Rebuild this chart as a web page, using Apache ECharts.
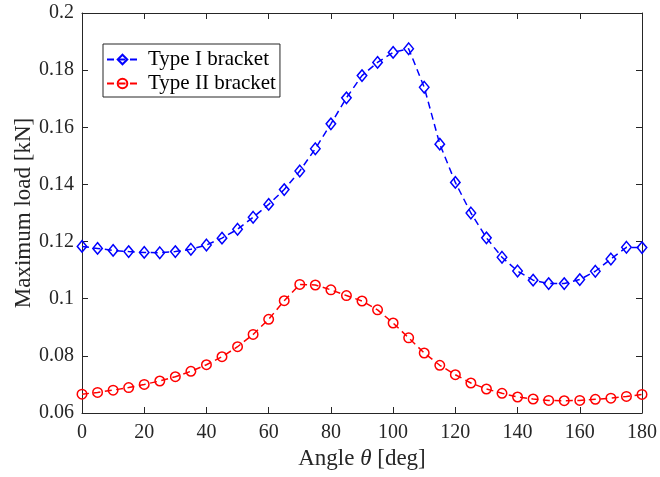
<!DOCTYPE html>
<html>
<head>
<meta charset="utf-8">
<script src="https://cdn.jsdelivr.net/npm/echarts@6/dist/echarts.min.js"></script>
<style>
  html, body { margin: 0; padding: 0; background: #fff; }
  #chart { width: 660px; height: 477px; }
</style>
</head>
<body>
<div id="chart"></div>
<script>
// Angles in degrees, one sample every 5 degrees
const angles = [0, 5, 10, 15, 20, 25, 30, 35, 40, 45, 50, 55, 60, 65, 70, 75, 80, 85, 90,
  95, 100, 105, 110, 115, 120, 125, 130, 135, 140, 145, 150, 155, 160, 165, 170, 175, 180];

// Maximum load [kN] for each bracket type
const typeI = [0.1183, 0.1176, 0.1169, 0.1165, 0.1162, 0.1161, 0.1165, 0.1173, 0.1188, 0.1212,
  0.1243, 0.1285, 0.1330, 0.1382, 0.1447, 0.1525, 0.1612, 0.1703, 0.1781, 0.1827,
  0.1862, 0.1875, 0.1740, 0.1541, 0.1407, 0.1300, 0.1213, 0.1145, 0.1097, 0.1065,
  0.1053, 0.1053, 0.1067, 0.1096, 0.1139, 0.1180, 0.1179];

const typeII = [0.0666, 0.0672, 0.0680, 0.0689, 0.0700, 0.0712, 0.0727, 0.0746, 0.0769, 0.0797,
  0.0832, 0.0875, 0.0928, 0.0993, 0.1050, 0.1048, 0.1031, 0.1011, 0.0992, 0.0961,
  0.0915, 0.0863, 0.0810, 0.0767, 0.0734, 0.0705, 0.0684, 0.0669, 0.0656, 0.0649,
  0.0644, 0.0643, 0.0644, 0.0648, 0.0652, 0.0658, 0.0665];

const seriesNames = ['Type I bracket', 'Type II bracket'];

const FONT = '"Liberation Serif", "Times New Roman", serif';
const AXIS_COLOR = '#262626';

const chart = echarts.init(document.getElementById('chart'), null, { renderer: 'canvas' });

const pairs = (ys) => angles.map((a, i) => [a, ys[i]]);

// Shared look for the boxed frame with inward ticks
const frameLine = { show: true, onZero: false, lineStyle: { color: AXIS_COLOR, width: 1 } };
const frameTick = { show: true, inside: true, length: 6, lineStyle: { color: AXIS_COLOR, width: 1 } };

const xBase = { type: 'value', min: 0, max: 180, interval: 20, splitLine: { show: false } };
const yBase = { type: 'value', min: 0.06, max: 0.2, interval: 0.02, splitLine: { show: false } };

chart.setOption({
  animation: false,
  backgroundColor: '#ffffff',
  textStyle: { fontFamily: FONT },
  grid: { left: 82, right: 17, top: 13, bottom: 64, containLabel: false },
  legend: {
    orient: 'vertical',
    left: 103,
    top: 44,
    data: seriesNames,
    itemWidth: 31,
    itemHeight: 12,
    itemGap: 3,
    padding: [5, 4, 3, 3],
    backgroundColor: '#ffffff',
    borderColor: AXIS_COLOR,
    borderWidth: 1,
    borderRadius: 0,
    textStyle: { fontFamily: FONT, fontSize: 21, color: '#000', padding: [0, 0, 0, 5] }
  },
  xAxis: [
    Object.assign({}, xBase, {
      position: 'bottom',
      axisLine: frameLine,
      axisTick: frameTick,
      axisLabel: { fontFamily: FONT, fontSize: 20, color: AXIS_COLOR, margin: 10 },
      name: 'Angle {i|θ} [deg]',
      nameLocation: 'middle',
      nameGap: 25,
      nameTextStyle: {
        fontFamily: FONT, fontSize: 23, color: AXIS_COLOR,
        rich: { i: { fontFamily: FONT, fontSize: 23, fontStyle: 'italic', color: AXIS_COLOR } }
      }
    }),
    Object.assign({}, xBase, {
      position: 'top',
      axisLine: frameLine,
      axisTick: frameTick,
      axisLabel: { show: false }
    })
  ],
  yAxis: [
    Object.assign({}, yBase, {
      position: 'left',
      axisLine: frameLine,
      axisTick: frameTick,
      axisLabel: {
        fontFamily: FONT, fontSize: 20, color: AXIS_COLOR, margin: 8,
        formatter: (v) => String(+v.toFixed(2))
      },
      name: 'Maximum load [kN]',
      nameLocation: 'middle',
      nameGap: 47,
      nameMoveOverlap: false,
      nameTextStyle: { fontFamily: FONT, fontSize: 23, color: AXIS_COLOR }
    }),
    Object.assign({}, yBase, {
      position: 'right',
      axisLine: frameLine,
      axisTick: frameTick,
      axisLabel: { show: false }
    })
  ],
  series: [
    {
      name: seriesNames[0],
      type: 'line',
      data: pairs(typeI),
      xAxisIndex: 0,
      yAxisIndex: 0,
      symbol: 'diamond',
      symbolSize: [9.5, 11.5],
      showAllSymbol: true,
      lineStyle: { color: '#0000ff', width: 1.5, type: [7, 4.5] },
      itemStyle: { color: 'rgba(0,0,0,0)', borderColor: '#0000ff', borderWidth: 1.5 },
      emphasis: { disabled: true },
      z: 3
    },
    {
      name: seriesNames[1],
      type: 'line',
      data: pairs(typeII),
      xAxisIndex: 0,
      yAxisIndex: 0,
      symbol: 'circle',
      symbolSize: 9.5,
      showAllSymbol: true,
      lineStyle: { color: '#ff0000', width: 1.5, type: [7, 4.5] },
      itemStyle: { color: 'rgba(0,0,0,0)', borderColor: '#ff0000', borderWidth: 1.5 },
      emphasis: { disabled: true },
      z: 2
    }
  ]
});
</script>
</body>
</html>
